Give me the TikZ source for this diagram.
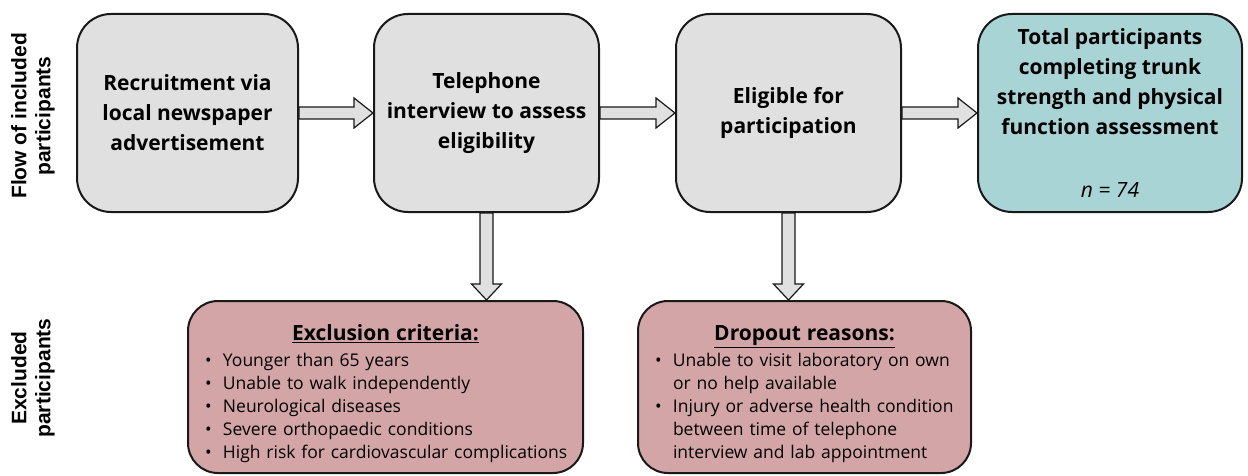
\documentclass[tikz,border=0pt]{standalone}
\usepackage{fontspec}
\setmainfont{Open Sans}
\newfontfamily\sidefont{Liberation Sans}
\usetikzlibrary{calc}
\definecolor{boxgray}{RGB}{224,224,224}
\definecolor{tealbox}{RGB}{168,212,214}
\definecolor{pinkbox}{RGB}{211,165,166}
\definecolor{edgec}{RGB}{25,25,25}
\newcommand\bitem[1]{\par\hangindent=25pt\hangafter=1\noindent\makebox[25pt][l]{\hspace{7pt}\textbullet}#1}
\newcommand\harrow[2]{\draw[blockarrow] let \p1=(#1.east), \p2=(#2.west) in
  (\x1,\y1+6pt) -- (\x2-19pt,\y1+6pt) -- (\x2-19pt,\y1+15pt) -- (\x2,\y1)
  -- (\x2-19pt,\y1-15pt) -- (\x2-19pt,\y1-6pt) -- (\x1,\y1-6pt) -- cycle;}
\newcommand\varrow[2]{\draw[blockarrow] let \p1=(#1.south), \p2=(#2.north) in
  (\x1-6.5pt,\y1) -- (\x1-6.5pt,\y2+16pt) -- (\x1-15pt,\y2+16pt) -- (\x1,\y2)
  -- (\x1+15pt,\y2+16pt) -- (\x1+6.5pt,\y2+16pt) -- (\x1+6.5pt,\y1) -- cycle;}
\begin{document}
\begin{tikzpicture}[x=1pt,y=-1pt,
  mainbox/.style={draw=edgec, line width=2pt, rounded corners=34pt, fill=boxgray,
    minimum height=198pt, align=center, inner sep=0pt,
    font=\fontsize{21}{30}\selectfont\bfseries},
  pinkstyle/.style={draw=edgec, line width=2pt, rounded corners=30pt, fill=pinkbox,
    minimum height=172pt, align=left, inner xsep=10pt, inner ysep=0pt,
    font=\fontsize{17.5}{23.2}\selectfont},
  sidelabel/.style={rotate=90, align=center, font=\sidefont\bfseries\fontsize{21}{24}\selectfont},
  blockarrow/.style={draw=edgec, line width=1.2pt, fill=boxgray, line join=miter}
]
\useasboundingbox (0,0) rectangle (1248,476);
\fill[white] (0,0) rectangle (1248,476);

\node[sidelabel] (side1) at (33,116) {Flow of included\\participants};
\node[sidelabel] (side2) at (33,378) {Excluded\\participants};

\node[mainbox, minimum width=221pt] (b1) at (187.5,113) {Recruitment via\\local newspaper\\advertisement};
\node[mainbox, minimum width=225pt] (b2) at (486.5,113) {Telephone\\interview to assess\\eligibility};
\node[mainbox, minimum width=225pt] (b3) at (788.5,113) {Eligible for\\participation};
\node[mainbox, minimum width=264pt, fill=tealbox] (b4) at (1110,113)
  {Total participants\\completing trunk\\strength and physical\\function assessment\\[33pt]{\normalfont\itshape n = 74}};

\node[pinkstyle, text width=375pt] (excl) at (385.5,387) {%
  \par\vspace*{6pt}{\centering\bfseries\fontsize{21}{24}\selectfont\underline{Exclusion criteria:}\par}\vspace{2pt}
  \bitem{Younger than 65 years}
  \bitem{Unable to walk independently}
  \bitem{Neurological diseases}
  \bitem{Severe orthopaedic conditions}
  \bitem{High risk for cardiovascular complications}\par};

\node[pinkstyle, text width=313pt] (drop) at (804.5,387) {%
  \par\vspace*{6pt}{\centering\bfseries\fontsize{21}{24}\selectfont\underline{Dropout reasons:}\par}\vspace{2pt}
  \bitem{Unable to visit laboratory on own\newline or no help available}
  \bitem{Injury or adverse health condition\newline between time of telephone\newline interview and lab appointment}\par};

\harrow{b1}{b2}
\harrow{b2}{b3}
\harrow{b3}{b4}
\varrow{b2}{excl}
\varrow{b3}{drop}
\end{tikzpicture}
\end{document}
